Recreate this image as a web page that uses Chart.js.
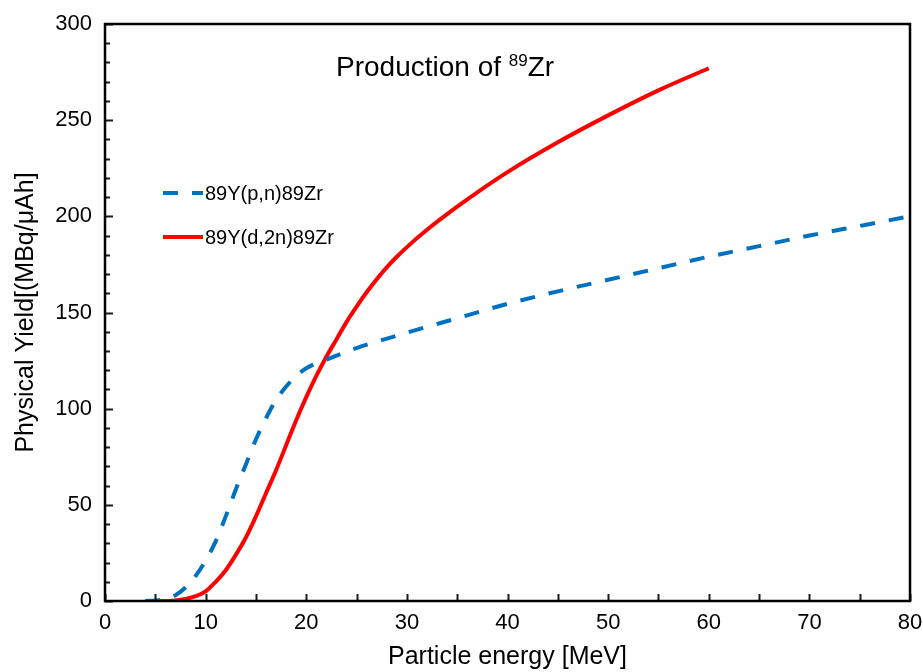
<!DOCTYPE html>
<html>
<head>
<meta charset="utf-8">
<title>Production of 89Zr</title>
<script src="https://cdn.jsdelivr.net/npm/chart.js@4/dist/chart.umd.min.js"></script>
<style>
    html, body { margin: 0; padding: 0; background: #fff; }
    #wrap { position: relative; width: 923px; height: 672px; }
</style>
</head>
<body>
<div id="wrap"><canvas id="chart-yield" width="923" height="672"></canvas></div>
<script>
// 89Y(p,n)89Zr - proton route
const energyPN = [4, 5, 6, 7, 8, 9, 10, 11, 12, 13, 14, 15, 16, 17, 18, 19, 20, 22, 25, 30, 35, 40, 45, 50, 55, 60, 65, 70, 75, 80];
const yieldPN = [0, 0.3, 1, 3, 7, 13, 21, 31, 44, 58, 71, 84, 95, 104.5, 111.5, 117, 121, 125.5, 131.5, 139.5, 147, 154.5, 161, 167, 173, 179, 184.5, 190, 195, 200];

// 89Y(d,2n)89Zr - deuteron route
const energyDN = [5, 6, 7, 8, 9, 10, 11, 12, 13, 14, 15, 16, 17, 18, 19, 20, 21, 22, 23, 24, 25, 26, 27, 28, 29, 30, 32, 35, 37, 40, 45, 50, 55, 60];
const yieldDN = [0, 0, 0.3, 1, 2.5, 5, 10, 16, 24, 33, 44, 56, 68, 81, 94, 106, 117, 127, 136, 145, 153, 160.5, 167.3, 173.5, 179, 184, 193, 205, 212.5, 223, 238.5, 252.5, 265.5, 277];

const xTicks = [0, 10, 20, 30, 40, 50, 60, 70, 80];
const yTicks = [0, 50, 100, 150, 200, 250, 300];

const seriesNames = ['89Y(p,n)89Zr', '89Y(d,2n)89Zr'];
const seriesColors = ['#0070C0', '#FF0000'];

const FONT = '"Liberation Sans", Arial, sans-serif';
const blueDash = [15, 14];

function toPoints(xs, ys) {
    return xs.map((x, i) => ({ x: x, y: ys[i] }));
}

// Frame + inward ticks on left/bottom
const framePlugin = {
    id: 'frame',
    afterDraw(chart) {
        const { ctx, chartArea: a, scales } = chart;
        ctx.save();
        ctx.strokeStyle = '#1a1a1a';
        ctx.lineWidth = 2;
        ctx.beginPath();
        for (let v = 0; v <= 300; v += 10) {
            const y = Math.round(scales.y.getPixelForValue(v)) + 0.5;
            const len = v % 50 === 0 ? 8 : 5;
            ctx.moveTo(a.left, y);
            ctx.lineTo(a.left + len, y);
        }
        for (let v = 0; v <= 80; v += 5) {
            const x = Math.round(scales.x.getPixelForValue(v)) + 0.5;
            ctx.moveTo(x, a.bottom);
            ctx.lineTo(x, a.bottom - 7);
        }
        ctx.stroke();

        ctx.strokeStyle = '#000';
        ctx.lineWidth = 2.5;
        ctx.strokeRect(a.left, a.top, a.right - a.left, a.bottom - a.top);
        ctx.restore();
    }
};

// Title inside plot + legend inside plot
const annotationsPlugin = {
    id: 'annotations',
    afterDraw(chart) {
        const ctx = chart.ctx;
        ctx.save();
        ctx.fillStyle = '#000';
        ctx.textBaseline = 'alphabetic';

        // Title with superscript mass number
        let x = 336;
        const base = 76;
        ctx.font = '28px ' + FONT;
        ctx.fillText('Production of ', x, base);
        x += ctx.measureText('Production of ').width;
        ctx.font = '17px ' + FONT;
        ctx.fillText('89', x, base - 10);
        x += ctx.measureText('89').width;
        ctx.font = '28px ' + FONT;
        ctx.fillText('Zr', x, base);

        // Legend
        const rows = [193, 237];
        rows.forEach((y, i) => {
            ctx.beginPath();
            ctx.strokeStyle = seriesColors[i];
            ctx.lineWidth = 4;
            ctx.setLineDash(i === 0 ? blueDash : []);
            ctx.moveTo(163, y);
            ctx.lineTo(203, y);
            ctx.stroke();
            ctx.setLineDash([]);
            ctx.font = '20px ' + FONT;
            ctx.textBaseline = 'middle';
            ctx.fillStyle = '#000';
            ctx.fillText(seriesNames[i], 205, y + 1);
        });
        ctx.restore();
    }
};

const ctx = document.getElementById('chart-yield');
const chart = new Chart(ctx, {
    type: 'line',
    data: {
        datasets: [
            {
                label: seriesNames[0],
                data: toPoints(energyPN, yieldPN),
                borderColor: seriesColors[0],
                borderWidth: 4,
                borderDash: blueDash,
                cubicInterpolationMode: 'monotone',
                pointRadius: 0,
                fill: false
            },
            {
                label: seriesNames[1],
                data: toPoints(energyDN, yieldDN),
                borderColor: seriesColors[1],
                borderWidth: 4,
                cubicInterpolationMode: 'monotone',
                pointRadius: 0,
                fill: false
            }
        ]
    },
    options: {
        responsive: false,
        animation: false,
        layout: { padding: { top: 24, right: 13, left: 0, bottom: 0 } },
        plugins: {
            legend: { display: false },
            tooltip: { enabled: false }
        },
        scales: {
            x: {
                type: 'linear',
                min: 0,
                max: 80,
                afterBuildTicks: (s) => { s.ticks = xTicks.map(v => ({ value: v })); },
                afterFit: (s) => {
                    s.height = 71;
                    s.paddingLeft = 0;
                    s.paddingRight = 0;
                },
                grid: { display: false, drawTicks: false },
                border: { display: false },
                ticks: {
                    color: '#000',
                    padding: 9,
                    maxRotation: 0,
                    font: { family: FONT, size: 22 }
                },
                title: {
                    display: true,
                    text: 'Particle energy [MeV]',
                    color: '#000',
                    padding: { top: 0, bottom: 0 },
                    font: { family: FONT, size: 25 }
                }
            },
            y: {
                min: 0,
                max: 300,
                afterBuildTicks: (s) => { s.ticks = yTicks.map(v => ({ value: v })); },
                afterFit: (s) => {
                    s.width = 105;
                    s.paddingTop = 0;
                    s.paddingBottom = 0;
                },
                grid: { display: false, drawTicks: false },
                border: { display: false },
                ticks: {
                    color: '#000',
                    padding: 13,
                    font: { family: FONT, size: 22 }
                },
                title: {
                    display: true,
                    text: 'Physical Yield[(MBq/μAh]',
                    color: '#000',
                    padding: { top: 11, bottom: 0 },
                    font: { family: FONT, size: 25 }
                }
            }
        }
    },
    plugins: [framePlugin, annotationsPlugin]
});
window.chart = chart;
</script>
</body>
</html>
